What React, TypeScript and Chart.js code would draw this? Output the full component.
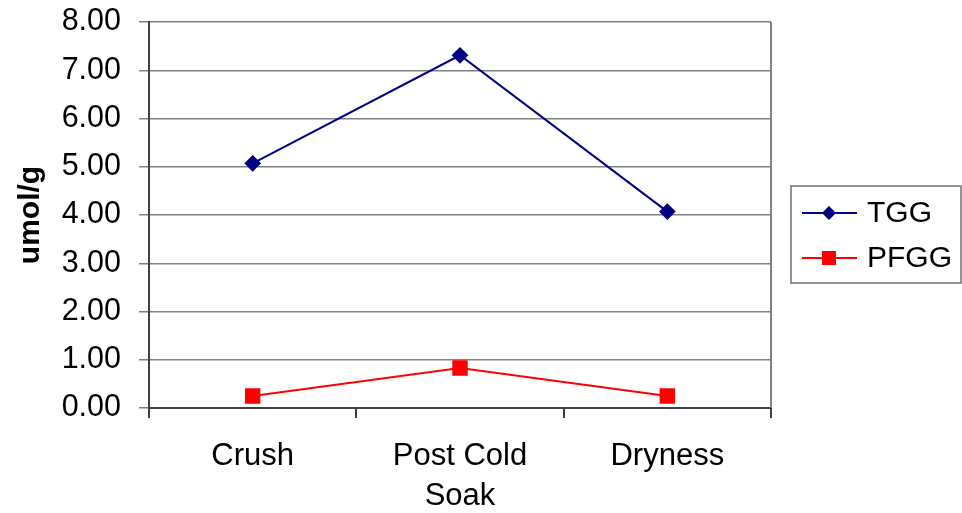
import React, { useEffect, useRef } from "react";
import { Chart, registerables } from "chart.js";

Chart.register(...registerables);

const categories: (string | string[])[] = ["Crush", ["Post Cold", "Soak"], "Dryness"];
const tggValues = [5.07, 7.31, 4.07];
const pfggValues = [0.25, 0.83, 0.25];
const yTicks = [0, 1, 2, 3, 4, 5, 6, 7, 8];

const FONT = "Arial, 'Liberation Sans', sans-serif";

// Boxed legend on the right, drawn from the dataset styles.
const boxLegend = {
  id: "boxLegend",
  afterDraw(chart: any) {
    const ctx = chart.ctx;
    const x0 = 791, y0 = 186, w = 170, h = 97;
    ctx.save();
    ctx.strokeStyle = "#707070";
    ctx.lineWidth = 1.5;
    ctx.strokeRect(x0, y0, w, h);
    chart.data.datasets.forEach((ds: any, i: number) => {
      const y = 213 + i * 45;
      ctx.strokeStyle = ds.borderColor;
      ctx.lineWidth = 2;
      ctx.beginPath();
      ctx.moveTo(802, y);
      ctx.lineTo(857, y);
      ctx.stroke();
      ctx.fillStyle = ds.pointBackgroundColor;
      ctx.beginPath();
      if (ds.pointStyle === "rectRot") {
        const r = 7;
        ctx.moveTo(829, y - r);
        ctx.lineTo(829 + r, y);
        ctx.lineTo(829, y + r);
        ctx.lineTo(829 - r, y);
        ctx.closePath();
      } else {
        ctx.rect(829 - 7, y - 7, 14, 14);
      }
      ctx.fill();
      ctx.fillStyle = "#000";
      ctx.font = `30px ${FONT}`;
      ctx.textBaseline = "middle";
      ctx.textAlign = "left";
      ctx.fillText(ds.label, 867, y + 1);
    });
    ctx.restore();
  },
};

// Right edge of the plot frame.
const plotFrame = {
  id: "plotFrame",
  beforeDatasetsDraw(chart: any) {
    const { ctx, chartArea } = chart;
    ctx.save();
    ctx.strokeStyle = "#808080";
    ctx.lineWidth = 2;
    ctx.beginPath();
    ctx.moveTo(chartArea.right, chartArea.top);
    ctx.lineTo(chartArea.right, chartArea.bottom);
    ctx.stroke();
    ctx.restore();
  },
};

export default function App() {
  const ref = useRef<HTMLCanvasElement>(null);

  useEffect(() => {
    document.body.style.margin = "0";
    const chart = new Chart(ref.current!, {
      type: "line",
      data: {
        labels: categories,
        datasets: [
          {
            label: "TGG",
            data: tggValues,
            borderColor: "#000080",
            backgroundColor: "#000080",
            pointBackgroundColor: "#000080",
            pointBorderColor: "#000080",
            pointStyle: "rectRot",
            pointRadius: 7,
            borderWidth: 2,
            tension: 0,
          },
          {
            label: "PFGG",
            data: pfggValues,
            borderColor: "#ff0000",
            backgroundColor: "#ff0000",
            pointBackgroundColor: "#ff0000",
            pointBorderColor: "#ff0000",
            pointStyle: "rect",
            pointRadius: 9.5,
            borderWidth: 2,
            tension: 0,
          },
        ],
      },
      options: {
        responsive: false,
        animation: false,
        layout: { padding: { left: 0, top: 22, right: 191, bottom: 0 } },
        plugins: { legend: { display: false }, tooltip: { enabled: false } },
        scales: {
          x: {
            type: "category",
            offset: true,
            grid: {
              offset: true,
              drawOnChartArea: false,
              tickLength: 10,
              color: "#404040",
              lineWidth: 2,
            },
            border: { color: "#404040", width: 2 },
            ticks: {
              color: "#000",
              font: { family: FONT, size: 31, lineHeight: 1.3 },
              padding: 18,
              maxRotation: 0,
              autoSkip: false,
            },
            afterFit(scale: any) {
              scale.height = 105;
              scale.paddingLeft = 0;
              scale.paddingRight = 0;
            },
          },
          y: {
            min: 0,
            max: 8,
            afterBuildTicks(scale: any) {
              scale.ticks = yTicks.map((v) => ({ value: v }));
            },
            grid: { color: "#808080", lineWidth: 1.5, tickLength: 10 },
            border: { color: "#404040", width: 2 },
            ticks: {
              color: "#000",
              font: { family: FONT, size: 30.5 },
              padding: 18,
              callback: (v: any) => Number(v).toFixed(2),
            },
            title: {
              display: true,
              text: "umol/g",
              color: "#000",
              font: { family: FONT, size: 30, weight: "bold" },
              padding: { top: 13, bottom: 0 },
            },
            afterFit(scale: any) {
              scale.width = 149;
              scale.paddingTop = 0;
              scale.paddingBottom = 0;
            },
          },
        },
      },
      plugins: [plotFrame, boxLegend],
    });
    return () => chart.destroy();
  }, []);

  return <canvas ref={ref} width={962} height={513} />;
}
